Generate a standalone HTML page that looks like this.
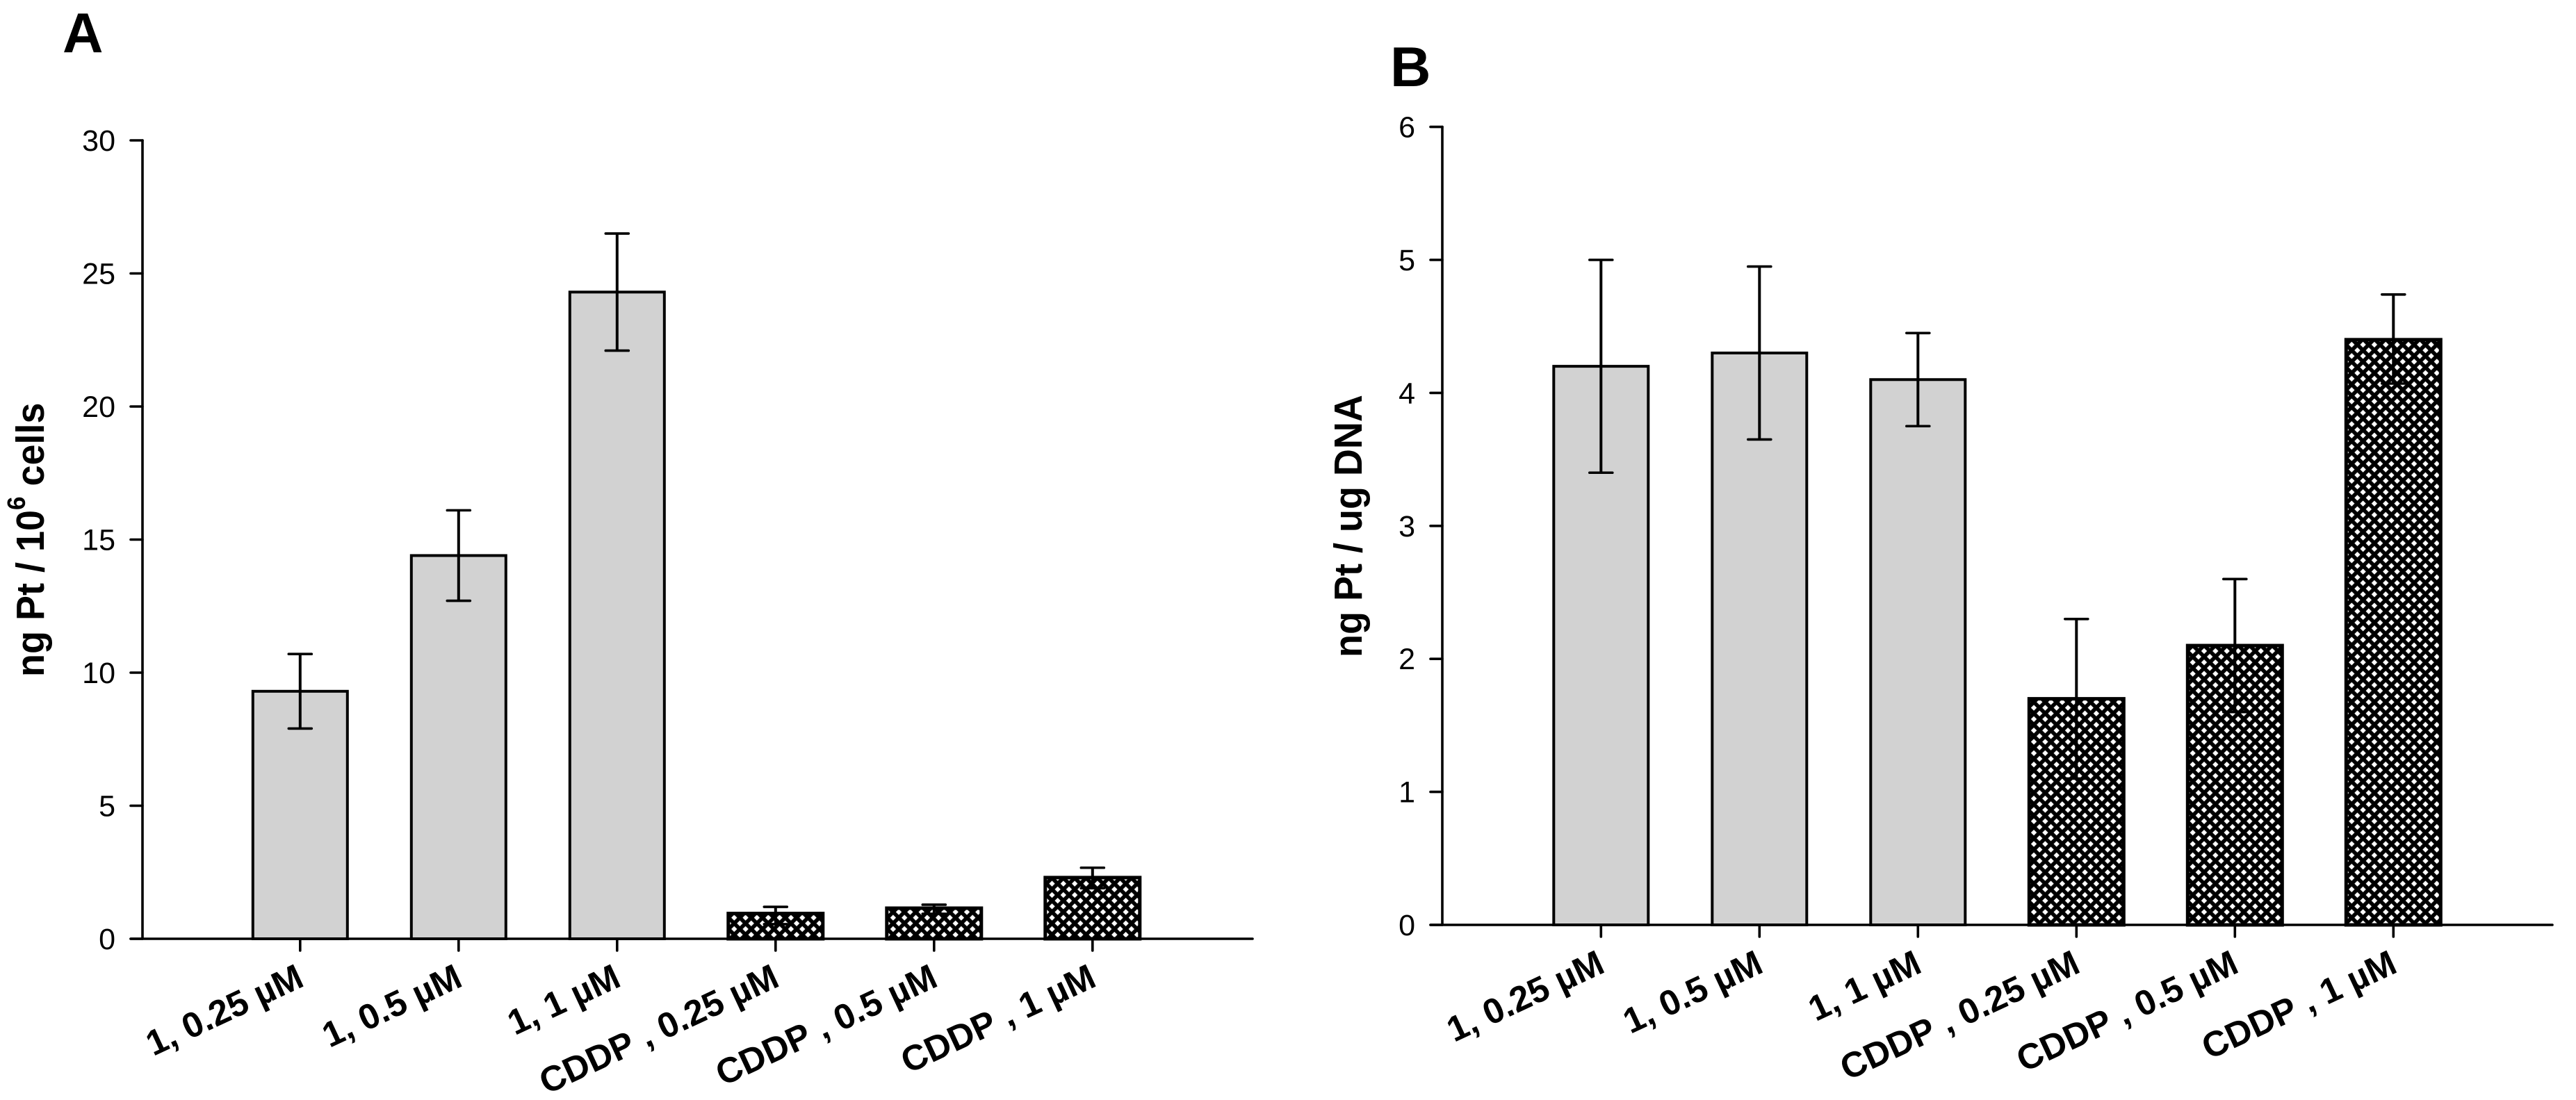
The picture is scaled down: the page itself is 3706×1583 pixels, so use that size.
<!DOCTYPE html>
<html lang="en">
<head>
<meta charset="utf-8">
<title>Platinum uptake bar charts</title>
<style>
html,body{margin:0;padding:0;background:#fff;}
svg{display:block;font-family:"Liberation Sans",Arial,sans-serif;}
.tick-label{font-size:43px;fill:#000;}
.axis-title{font-size:54px;font-weight:bold;fill:#000;}
.panel-letter{font-size:81px;font-weight:bold;fill:#000;}
.cat-label{font-size:51px;font-weight:bold;fill:#000;font-kerning:none;font-feature-settings:"kern" 0;}
</style>
</head>
<body>
<svg id="figure" xmlns="http://www.w3.org/2000/svg" width="3706" height="1583" viewBox="0 0 3706 1583">
  <defs>
    <pattern id="hatch" patternUnits="userSpaceOnUse" x="3379.2" y="491.9" width="16.33" height="16.33">
      <rect width="16.33" height="16.33" fill="#000"/>
      <polygon points="4.08,-0.1 8.26,4.08 4.08,8.26 -0.1,4.08" fill="#fff"/>
      <polygon points="12.25,8.07 16.43,12.25 12.25,16.43 8.07,12.25" fill="#fff"/>
    </pattern>
  </defs>
  <rect width="3706" height="1583" fill="#fff"/>
  <text class="panel-letter" x="90" y="75">A</text>
  <text class="panel-letter" x="2000" y="124">B</text>
  <text class="axis-title" transform="translate(63,974) rotate(-90) scale(1,1.04)">ng Pt / 10<tspan font-size="35" dy="-26">6</tspan><tspan dy="26"> cells</tspan></text>
  <text class="axis-title" transform="translate(1959,946) rotate(-90) scale(1,1.05)">ng Pt / ug DNA</text>
  <g id="panel-a"></g>
  <g id="panel-b"></g>
</svg>
<script>
var categories = ["1, 0.25 µM", "1, 0.5 µM", "1, 1 µM", "CDDP , 0.25 µM", "CDDP , 0.5 µM", "CDDP , 1 µM"];
var seriesFill = ["solid", "solid", "solid", "hatch", "hatch", "hatch"];

var panelAValues = [9.3, 14.4, 24.3, 0.95, 1.15, 2.3];
var panelAErrorHigh = [10.7, 16.1, 26.5, 1.2, 1.28, 2.67];
var panelAErrorLow = [7.9, 12.7, 22.1, 0.55, 0.94, 1.9];
var panelATicks = [0, 5, 10, 15, 20, 25, 30];

var panelBValues = [4.2, 4.3, 4.1, 1.7, 2.1, 4.4];
var panelBErrorHigh = [5.0, 4.95, 4.45, 2.3, 2.6, 4.74];
var panelBErrorLow = [3.4, 3.65, 3.75, 1.1, 1.6, 4.07];
var panelBTicks = [0, 1, 2, 3, 4, 5, 6];

var SVGNS = "http://www.w3.org/2000/svg";

function make(parent, tag, attrs) {
  var node = document.createElementNS(SVGNS, tag);
  for (var k in attrs) node.setAttribute(k, attrs[k]);
  parent.appendChild(node);
  return node;
}

function drawPanel(opts) {
  var g = document.getElementById(opts.id);
  var p = opts.prefix;
  var yMin = opts.ticks[0];
  var yMax = opts.ticks[opts.ticks.length - 1];
  function yScale(v) { return opts.yZero + (v - yMin) * (opts.yTop - opts.yZero) / (yMax - yMin); }
  function xScale(i) { return opts.xFirst + i * opts.xStep; }
  function seg(x1, y1, x2, y2, w) {
    return make(g, "line", {x1: x1, y1: y1, x2: x2, y2: y2, stroke: "#000", "stroke-width": w || 3.6, "stroke-linecap": "round"});
  }

  opts.values.forEach(function (v, i) {
    var cx = xScale(i);
    var top = yScale(v);
    var isHatch = seriesFill[i] === "hatch";
    var bar = make(g, "rect", {x: cx - 68, y: top, width: 136, height: opts.yZero - top,
      fill: isHatch ? "url(#hatch)" : "#d2d2d2", stroke: "#000", "stroke-width": isHatch ? 5 : 4});
    
    
  });

  opts.values.forEach(function (v, i) {
    var cx = xScale(i);
    var hi = yScale(opts.high[i]);
    var lo = yScale(opts.low[i]);
    var stem = make(g, "line", {x1: cx, y1: hi, x2: cx, y2: lo, stroke: "#000", "stroke-width": 4});
    
    
    var capHigh = seg(cx - 16.5, hi, cx + 16.5, hi);
    
    
    var capLow = seg(cx - 16.5, lo, cx + 16.5, lo);
    
    
  });

  var yAxis = seg(opts.xAxis, opts.yTop, opts.xAxis, opts.yZero);
  
  
  var xAxis = seg(opts.xAxis - 17, opts.yZero, opts.xEnd, opts.yZero);
  
  

  opts.ticks.forEach(function (t) {
    var y = yScale(t);
    var mark = seg(opts.xAxis - 17, y, opts.xAxis, y);
    
    
    var label = make(g, "text", {x: opts.xAxis - 39, y: y + 15, "text-anchor": "end", "class": "tick-label"});
    label.textContent = String(t);
    
    
  });

  categories.forEach(function (c, i) {
    var cx = xScale(i);
    var mark = seg(cx, opts.yZero, cx, opts.yZero + 17);
    
    
    var label = make(g, "text", {"text-anchor": "end", "class": "cat-label",
      transform: "translate(" + (cx + 8) + "," + (opts.yZero + 67) + ") rotate(-25)"});
    label.textContent = c;
    
    
  });
}

drawPanel({id: "panel-a", prefix: "panel-a", values: panelAValues, high: panelAErrorHigh, low: panelAErrorLow,
  ticks: panelATicks, xAxis: 205, xEnd: 1802, xFirst: 431.8, xStep: 228, yZero: 1351, yTop: 202});
drawPanel({id: "panel-b", prefix: "panel-b", values: panelBValues, high: panelBErrorHigh, low: panelBErrorLow,
  ticks: panelBTicks, xAxis: 2075, xEnd: 3672, xFirst: 2303.3, xStep: 228, yZero: 1331, yTop: 182.6});
</script>
</body>
</html>
